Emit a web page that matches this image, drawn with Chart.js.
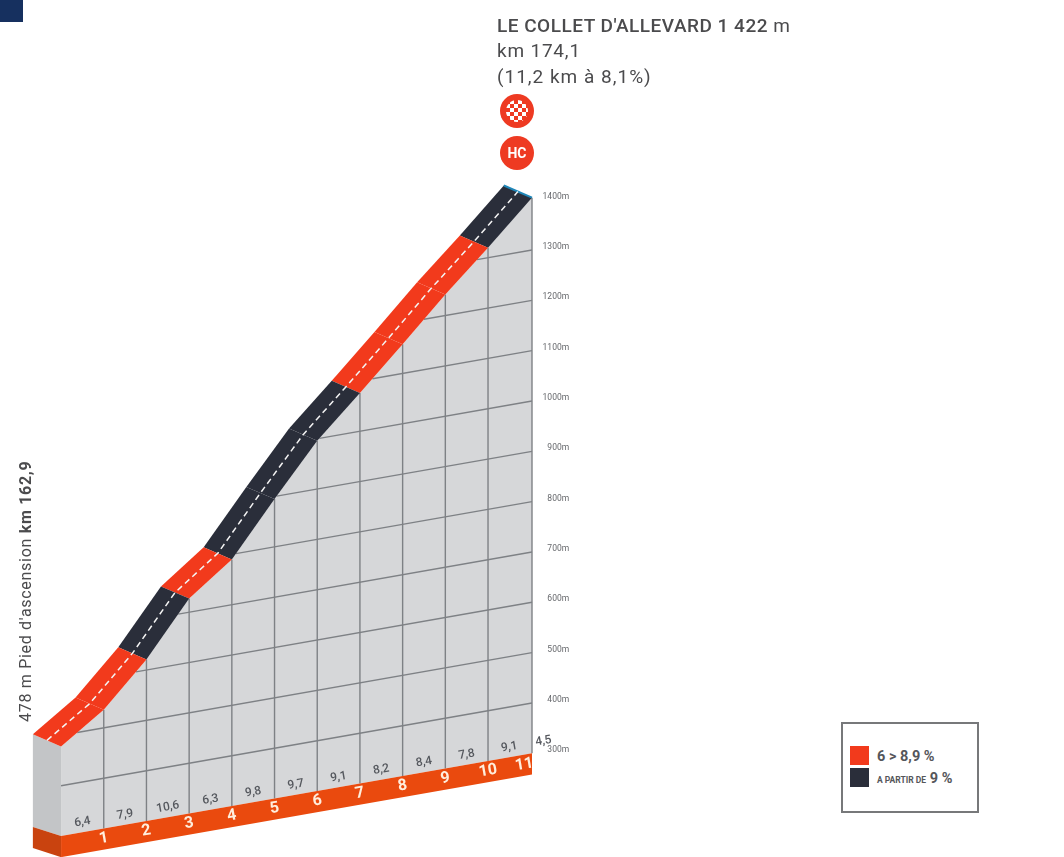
<!DOCTYPE html>
<html>
<head>
<meta charset="utf-8">
<title>Le Collet d'Allevard</title>
<script src="https://cdn.jsdelivr.net/npm/chart.js@4"></script>
<style>
  html, body { margin: 0; padding: 0; background: #fff; }
  #page { position: relative; width: 1064px; height: 857px; overflow: hidden; font-family: Roboto, sans-serif; }
  #profile { position: absolute; left: 0; top: 0; }
  .corner { position: absolute; left: 0; top: 0; width: 23px; height: 22px; background: #16305f; }
  .title { position: absolute; left: 497px; color: #4b4b4d; font-size: 19px; line-height: 25px; white-space: nowrap; }
  .foot { position: absolute; left: 26px; top: 722px; color: #4b4b4d; font-size: 16px; line-height: 18px; white-space: nowrap;
          transform-origin: 0 0; transform: rotate(-90deg) translateY(-9px); letter-spacing: 0.7px; }
  .badge { position: absolute; left: 500px; width: 34px; height: 34px; border-radius: 50%; background: #ee3a22;
           color: #fff; font-weight: 700; font-size: 14px; line-height: 34px; text-align: center; }
  .flag { position: absolute; left: 6px; top: 6px; width: 22px; height: 22px; border-radius: 50%;
          background: conic-gradient(#fff 25%, transparent 0 50%, #fff 0 75%, transparent 0) 0 0 / 8px 8px; }
  .legend { position: absolute; left: 841px; top: 722px; width: 134px; height: 87px; border: 2px solid #77787a; background: #fff; }
  .swatch { position: absolute; left: 7px; width: 19px; height: 19px; }
  .legtext { position: absolute; left: 34px; color: #55565a; font-family: "Liberation Sans Narrow", Roboto, sans-serif;
             font-weight: 700; font-size: 14.5px; line-height: 19px; white-space: nowrap; }
  .legtext small { font-size: 8.5px; }
</style>
</head>
<body>
<div id="page">
  <canvas id="profile" width="1064" height="857"></canvas>
  <div class="corner"></div>
  <div class="title" style="top:13px;letter-spacing:0.5px"><span style="font-weight:500">LE COLLET D'ALLEVARD 1 422</span> m</div>
  <div class="title" style="top:38px;letter-spacing:0.8px">km 174,1</div>
  <div class="title" style="top:64px;letter-spacing:1px">(11,2 km à 8,1%)</div>
  <div class="badge" style="top:94px"><div class="flag"></div></div>
  <div class="badge" style="top:136px">HC</div>
  <div class="foot">478 m Pied d'ascension <b>km 162,9</b></div>
  <div class="legend">
    <div class="swatch" style="top:22px;background:#f23a1c"></div>
    <div class="legtext" style="top:23px">6 &gt; 8,9 %</div>
    <div class="swatch" style="top:44px;background:#2a2e3a"></div>
    <div class="legtext" style="top:45px"><small>A PARTIR DE</small> 9 %</div>
  </div>
</div>

<script>
// Road profile (km from the foot, altitude in m)
const profileKm = [0, 1, 2, 3, 4, 5, 6, 7, 8, 9, 10, 11.03];
const profileAlt = [478, 536, 621, 727, 790, 895, 996, 1076, 1158, 1242, 1320, 1404];

// Gradient of each kilometre, last one only has a label
const gradients = [6.4, 7.9, 10.6, 6.3, 9.8, 9.7, 9.1, 8.2, 8.4, 7.8, 9.1, 4.5];
const gradientLabels = ['6,4', '7,9', '10,6', '6,3', '9,8', '9,7', '9,1', '8,2', '8,4', '7,8', '9,1', '4,5'];
const gradientKm = [0.5, 1.5, 2.5, 3.5, 4.5, 5.5, 6.5, 7.5, 8.5, 9.5, 10.5, 11.3];

const kmLabels = ['1', '2', '3', '4', '5', '6', '7', '8', '9', '10', '11'];
const kmLabelKm = [1, 2, 3, 4, 5, 6, 7, 8, 9, 10, 10.85];

const altTicks = [1400, 1300, 1200, 1100, 1000, 900, 800, 700, 600, 500, 400, 300];

// The drawing is a fake 3D: the ground rises to the right and the road has depth
const skew = 14.9;        // m per km
const depthKm = -0.66;
const depthAlt = 34;
const baseAlt = 300;
const stripAlt = 258;
const labelAlt = 320;
const numberAlt = 280;
const kmEnd = profileKm[profileKm.length - 1];

const RED = '#f23a1c', DARK = '#2a2e3a', GREY = '#d6d7d9', SIDE = '#c3c5c7', LINE = '#7e8185';

// Front plane point
function front(km, alt) {
    return { x: km, y: alt + skew * (km - kmEnd) };
}

// Same point on the back edge of the road
function back(km, alt) {
    return { x: km + depthKm, y: alt + depthAlt + skew * (km + depthKm - kmEnd) };
}

function kmAtAlt(alt) {
    if (alt <= profileAlt[0]) return 0;
    for (let i = 1; i < profileAlt.length; i++) {
        if (alt <= profileAlt[i]) {
            const t = (alt - profileAlt[i - 1]) / (profileAlt[i] - profileAlt[i - 1]);
            return profileKm[i - 1] + t * (profileKm[i] - profileKm[i - 1]);
        }
    }
    return kmEnd;
}

function polygon(points, color, order) {
    return { data: points, polygon: color, order: order, showLine: false, pointRadius: 0 };
}

function line(points, color, width, order, dash) {
    return { data: points, borderColor: color, borderWidth: width, borderDash: dash || [], order: order, showLine: true, pointRadius: 0 };
}

const datasets = [];

// Terrain faces
datasets.push(polygon(
    profileKm.map((km, i) => front(km, profileAlt[i])).concat([front(kmEnd, baseAlt), front(0, baseAlt)]),
    GREY, 50));
datasets.push(polygon([back(0, profileAlt[0]), front(0, profileAlt[0]), front(0, baseAlt), back(0, baseAlt - depthAlt + 28)], SIDE, 50));

// Altitude lines, from the road down to the right edge
altTicks.filter(alt => alt > baseAlt && alt < 1400).forEach(alt => {
    datasets.push(line([front(kmAtAlt(alt), alt), front(kmEnd, alt)], LINE, 1.4, 40));
});

// Kilometre lines
profileKm.slice(1).forEach((km, i) => {
    datasets.push(line([front(km, baseAlt), front(km, profileAlt[i + 1])], LINE, 1.4, 40));
});

// Orange base strip with its left side
datasets.push(polygon([front(0, baseAlt), front(kmEnd, baseAlt), front(kmEnd, stripAlt), front(0, stripAlt)], '#ea4a0e', 30));
datasets.push(polygon([back(0, baseAlt - depthAlt + 28), front(0, baseAlt), front(0, stripAlt), back(0, stripAlt - depthAlt + 28)], '#c9430f', 30));

// Road band, one piece per kilometre, coloured by its gradient
for (let i = 0; i < profileKm.length - 1; i++) {
    const color = gradients[i] >= 9 ? DARK : RED;
    datasets.push(polygon([
        back(profileKm[i], profileAlt[i]),
        back(profileKm[i + 1], profileAlt[i + 1]),
        front(profileKm[i + 1], profileAlt[i + 1]),
        front(profileKm[i], profileAlt[i])
    ], color, 20));
}

// Dashed middle of the road
datasets.push(line(profileKm.map((km, i) => {
    const a = front(km, profileAlt[i]), b = back(km, profileAlt[i]);
    return { x: (a.x + b.x) / 2, y: (a.y + b.y) / 2 };
}), '#f4f4f4', 1.5, 10, [6, 4]));

// Thin blue line at the summit
datasets.push(line([back(kmEnd, profileAlt[11]), front(kmEnd, profileAlt[11])], '#1f86b8', 2, 10));

const profilePlugin = {
    id: 'profilePlugin',
    // Filled faces are datasets too, they just need a closed path
    beforeDatasetDraw(chart, args) {
        const ds = chart.data.datasets[args.index];
        if (!ds.polygon) return;
        const ctx = chart.ctx;
        ctx.save();
        ctx.fillStyle = ds.polygon;
        ctx.beginPath();
        ds.data.forEach((p, i) => {
            const px = chart.scales.x.getPixelForValue(p.x);
            const py = chart.scales.y.getPixelForValue(p.y);
            if (i === 0) ctx.moveTo(px, py); else ctx.lineTo(px, py);
        });
        ctx.closePath();
        ctx.fill();
        ctx.restore();
    },
    afterDatasetsDraw(chart) {
        const ctx = chart.ctx;
        const xs = chart.scales.x, ys = chart.scales.y;
        const tilt = Math.atan(skew * (ys.height / (ys.max - ys.min)) / (xs.width / (xs.max - xs.min)));

        function label(text, km, alt, font, color) {
            const p = front(km, alt);
            ctx.save();
            ctx.translate(xs.getPixelForValue(p.x), ys.getPixelForValue(p.y));
            ctx.rotate(-tilt);
            ctx.font = font;
            ctx.fillStyle = color;
            ctx.textAlign = 'center';
            ctx.textBaseline = 'middle';
            ctx.fillText(text, 0, 0);
            ctx.restore();
        }

        gradientLabels.forEach((text, i) => {
            label(text, gradientKm[i], labelAlt, '500 12px Roboto', '#55585e');
        });
        kmLabels.forEach((text, i) => {
            label(text, kmLabelKm[i], numberAlt, 'bold 16px "Liberation Sans Narrow", Roboto', '#ffeedd');
        });
    }
};

document.addEventListener('DOMContentLoaded', function () {
    new Chart(document.getElementById('profile').getContext('2d'), {
        type: 'scatter',
        data: { datasets: datasets },
        plugins: [profilePlugin],
        options: {
            responsive: false,
            animation: false,
            layout: { padding: 0, autoPadding: false },
            plugins: { legend: { display: false }, tooltip: { enabled: false } },
            scales: {
                x: { type: 'linear', display: false, min: -1.43, max: 23.49 },
                y: {
                    type: 'linear',
                    position: { x: 11.9 },
                    // the axis keeps about 5px top and bottom for its labels
                    min: 104.1,
                    max: 1786.6,
                    afterBuildTicks: axis => { axis.ticks = altTicks.map(v => ({ value: v })); },
                    grid: { display: false },
                    border: { display: false },
                    ticks: {
                        color: '#66686c',
                        font: { size: 8.5, family: 'Roboto' },
                        labelOffset: -3,
                        padding: 0,
                        callback: value => value + 'm'
                    }
                }
            }
        }
    });
});
</script>
</body>
</html>
